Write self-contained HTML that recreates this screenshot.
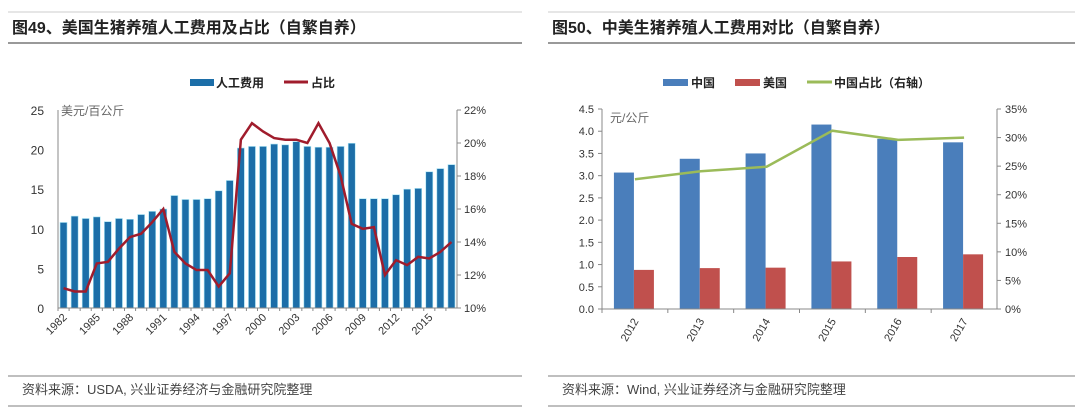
<!DOCTYPE html>
<html><head><meta charset="utf-8"><style>
body{margin:0;background:#fff;width:1080px;height:418px;overflow:hidden}
svg{display:block;font-family:"Liberation Sans","Noto Sans CJK SC",sans-serif}
</style></head><body>
<svg id="s" width="1080" height="418" viewBox="0 0 1080 418">
<g>
<line x1="8" y1="12" x2="522" y2="12" stroke="#ccc" stroke-width="1"/>
<line x1="8" y1="43" x2="522" y2="43" stroke="#999" stroke-width="2"/>
<text x="12" y="33" font-size="16" font-weight="bold" fill="#222">图49、美国生猪养殖人工费用及占比（自繁自养）</text>
<line x1="8" y1="376" x2="522" y2="376" stroke="#aaa" stroke-width="1.5"/>
<line x1="8" y1="406" x2="522" y2="406" stroke="#aaa" stroke-width="1.5"/>
<text x="22" y="394" font-size="13" fill="#444">资料来源：USDA, 兴业证券经济与金融研究院整理</text>
</g>
<g>
<line x1="548" y1="12" x2="1075" y2="12" stroke="#ccc" stroke-width="1"/>
<line x1="548" y1="43" x2="1075" y2="43" stroke="#999" stroke-width="2"/>
<text x="552" y="33" font-size="16" font-weight="bold" fill="#222">图50、中美生猪养殖人工费用对比（自繁自养）</text>
<line x1="548" y1="376" x2="1075" y2="376" stroke="#aaa" stroke-width="1.5"/>
<line x1="548" y1="406" x2="1075" y2="406" stroke="#aaa" stroke-width="1.5"/>
<text x="562" y="394" font-size="13" fill="#444">资料来源：Wind, 兴业证券经济与金融研究院整理</text>
</g>
<g id="c1"></g><g id="c2"></g>
</svg>
<script>
const years1 = [];
for (let y = 1982; y <= 2017; y++) years1.push(y);
const laborCost = [10.8,11.6,11.3,11.5,10.9,11.3,11.2,11.8,12.2,12.5,14.2,13.7,13.7,13.8,14.8,16.1,20.2,20.4,20.4,20.7,20.6,21.0,20.4,20.3,20.3,20.4,20.8,13.8,13.8,13.8,14.3,15.0,15.1,17.2,17.6,18.1];
const laborShare = [11.2,11.0,11.0,12.7,12.8,13.6,14.3,14.5,15.2,16.0,13.4,12.7,12.3,12.3,11.3,12.1,20.2,21.2,20.7,20.3,20.2,20.2,20.0,21.2,20.0,18.0,15.1,14.8,14.9,12.0,12.9,12.6,13.1,13.0,13.4,14.0];
const leftTicks1 = [0,5,10,15,20,25];
const rightTicks1 = [10,12,14,16,18,20,22];

const years2 = ['2012','2013','2014','2015','2016','2017'];
const china = [3.07,3.38,3.50,4.15,3.83,3.75];
const usa = [0.88,0.92,0.93,1.07,1.17,1.23];
const chinaShare = [22.7,24.1,24.9,31.2,29.6,30.0];
const leftTicks2 = [0,0.5,1,1.5,2,2.5,3,3.5,4,4.5];
const rightTicks2 = [0,5,10,15,20,25,30,35];

const NS='http://www.w3.org/2000/svg';
function mk(parent, tag, attrs, text){
  const e=document.createElementNS(NS,tag);
  for(const k in attrs) e.setAttribute(k,attrs[k]);
  if(text!==undefined) e.textContent=text;
  parent.appendChild(e); return e;
}
// ---------- chart 1 ----------
(function(){
  const g=document.getElementById('c1');
  const L=58,R=457,T=110,B=308;
  const n=years1.length, cw=(R-L)/n;
  const x=i=>L+cw*(i+0.5);
  const yL=v=>B-(v/25)*(B-T);
  const yR=v=>B-((v-10)/12)*(B-T);
  leftTicks1.forEach(v=>{
    const t=mk(g,'text',{x:L-14,y:yL(v)+5,'font-size':12,'text-anchor':'end',fill:'#333'},String(v));
    
    
  });
  rightTicks1.forEach(v=>{
    mk(g,'line',{x1:R,y1:yR(v),x2:R+4,y2:yR(v),stroke:'#888'});
    const t=mk(g,'text',{x:R+7,y:yR(v)+4,'font-size':11,fill:'#333'},v+'%');
    
    
  });
  mk(g,'line',{x1:L,y1:T,x2:L,y2:B,stroke:'#888'});
  mk(g,'line',{x1:R,y1:T,x2:R,y2:B,stroke:'#888'});
  laborCost.forEach((v,i)=>{
    const r=mk(g,'rect',{x:x(i)-3.5,y:yL(v),width:7,height:B-yL(v),fill:'#1c6ea8',stroke:'#a8e4f4','stroke-width':0.6});
    
    
  });
  mk(g,'line',{x1:L,y1:B,x2:R,y2:B,stroke:'#888'});
  years1.forEach((yr,i)=>{
    mk(g,'line',{x1:L+cw*i,y1:B,x2:L+cw*i,y2:B+3,stroke:'#888'});
    if(i%3===0){
      const t=mk(g,'text',{x:x(i)+4,y:B+10,'font-size':11,'text-anchor':'end',fill:'#333',transform:`rotate(-45 ${x(i)+4} ${B+10})`},String(yr));
      
      
    }
  });
  const p=mk(g,'polyline',{points:laborShare.map((v,i)=>x(i)+','+yR(v)).join(' '),fill:'none',stroke:'#a01c2c','stroke-width':2.5});
  
  
  const u=mk(g,'text',{x:L+3,y:T+5,'font-size':12,fill:'#666'},'美元/百公斤');
  
  
  // legend
  mk(g,'rect',{x:190,y:79,width:24,height:7,fill:'#1c6ea8'});
  const l1=mk(g,'text',{x:216,y:87,'font-size':12,'font-weight':'bold',fill:'#222'},'人工费用');
  
  
  mk(g,'line',{x1:284,y1:82,x2:308,y2:82,stroke:'#a01c2c','stroke-width':3});
  const l2=mk(g,'text',{x:311,y:87,'font-size':12,'font-weight':'bold',fill:'#222'},'占比');
  
  
})();
// ---------- chart 2 ----------
(function(){
  const g=document.getElementById('c2');
  const L=602,R=997,T=109,B=309;
  const n=years2.length, cw=(R-L)/n;
  const x=i=>L+cw*(i+0.5);
  const yL=v=>B-(v/4.5)*(B-T);
  const yR=v=>B-(v/35)*(B-T);
  leftTicks2.forEach(v=>{
    mk(g,'line',{x1:L-4,y1:yL(v),x2:L,y2:yL(v),stroke:'#888'});
    const t=mk(g,'text',{x:L-8,y:yL(v)+4,'font-size':11,'text-anchor':'end',fill:'#333'},v.toFixed(1));
    
    
  });
  rightTicks2.forEach(v=>{
    mk(g,'line',{x1:R,y1:yR(v),x2:R+4,y2:yR(v),stroke:'#888'});
    const t=mk(g,'text',{x:R+8,y:yR(v)+4,'font-size':11,fill:'#333'},v+'%');
    
    
  });
  mk(g,'line',{x1:L,y1:T,x2:L,y2:B,stroke:'#888'});
  mk(g,'line',{x1:R,y1:T,x2:R,y2:B,stroke:'#888'});
  years2.forEach((yr,i)=>{
    const a=mk(g,'rect',{x:x(i)-21,y:yL(china[i]),width:20,height:B-yL(china[i]),fill:'#4a7ebb'});
    
    
    const b=mk(g,'rect',{x:x(i)-1,y:yL(usa[i]),width:20,height:B-yL(usa[i]),fill:'#c0504d'});
    
    
    mk(g,'line',{x1:L+cw*i,y1:B,x2:L+cw*i,y2:B+4,stroke:'#888'});
    const t=mk(g,'text',{x:x(i)+4,y:B+12,'font-size':11,'text-anchor':'end',fill:'#333',transform:`rotate(-60 ${x(i)+4} ${B+12})`},yr);
    
    
  });
  mk(g,'line',{x1:L,y1:B,x2:R,y2:B,stroke:'#888'});
  const p=mk(g,'polyline',{points:chinaShare.map((v,i)=>x(i)+','+yR(v)).join(' '),fill:'none',stroke:'#9bbb59','stroke-width':2.5});
  
  
  const u=mk(g,'text',{x:L+8,y:T+13,'font-size':12,fill:'#666'},'元/公斤');
  
  
  mk(g,'rect',{x:663,y:79,width:25,height:7,fill:'#4a7ebb'});
  const l1=mk(g,'text',{x:691,y:87,'font-size':12,'font-weight':'bold',fill:'#222'},'中国');
  
  
  mk(g,'rect',{x:735,y:79,width:25,height:7,fill:'#c0504d'});
  const l2=mk(g,'text',{x:763,y:87,'font-size':12,'font-weight':'bold',fill:'#222'},'美国');
  
  
  mk(g,'line',{x1:807,y1:82,x2:832,y2:82,stroke:'#9bbb59','stroke-width':3});
  const l3=mk(g,'text',{x:834,y:87,'font-size':12,'font-weight':'bold',fill:'#222'},'中国占比（右轴）');
  
  
})();
</script>
</body></html>
